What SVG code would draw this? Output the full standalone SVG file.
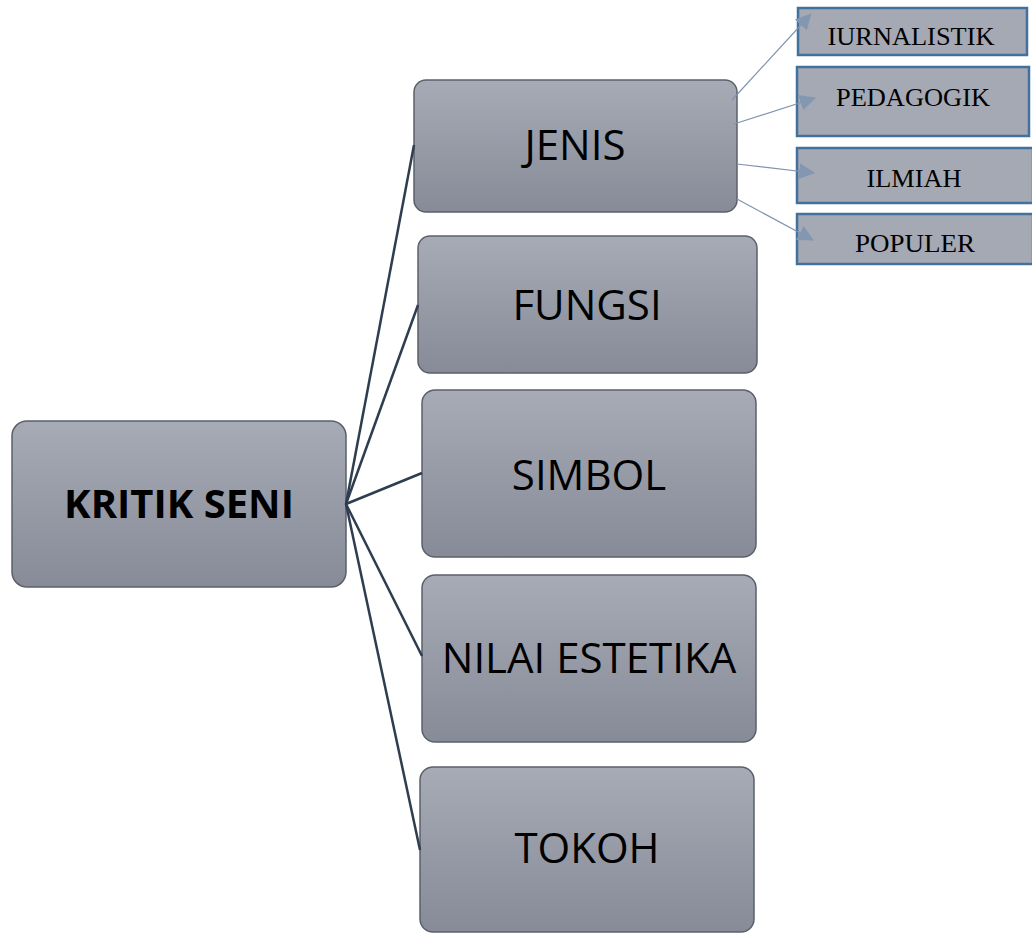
<svg xmlns="http://www.w3.org/2000/svg" width="1032" height="933" viewBox="0 0 1032 933">
  <defs>
    <linearGradient id="boxFill" x1="0" y1="0" x2="0" y2="1">
      <stop offset="0" stop-color="#a7abb6"/>
      <stop offset="1" stop-color="#868b97"/>
    </linearGradient>
    <marker id="tip" viewBox="0 0 16 16" refX="15" refY="8" markerWidth="16" markerHeight="16" markerUnits="userSpaceOnUse" orient="auto">
      <path d="M0,0 L16,8 L0,16 Z" fill="#8497b0"/>
    </marker>
    <style>
      .box { fill: url(#boxFill); stroke: #5b6069; stroke-width: 1.5; }
      .leaf { fill: #a5a9b4; stroke: #41719c; stroke-width: 2.5; }
      .main { font-family: "Open Sans", "Liberation Sans", sans-serif; font-size: 42px; fill: #000; text-anchor: middle; }
      .root { font-family: "Open Sans", "Liberation Sans", sans-serif; font-size: 40px; font-weight: bold; fill: #000; text-anchor: middle; }
      .leafText { font-family: "Liberation Serif", serif; font-size: 26px; fill: #000; text-anchor: middle; }
      .trunk { stroke: #2e3d4f; stroke-width: 2.5; fill: none; }
      .twig { stroke: #7f93b0; stroke-width: 1.2; fill: none; marker-end: url(#tip); }
    </style>
  </defs>

  <g id="kritik-seni">
    <rect class="box" x="12" y="421" width="334" height="166" rx="15"/>
    <text class="root" x="179" y="518">KRITIK SENI</text>
  </g>

  <g id="jenis">
    <rect class="box" x="414" y="80" width="323" height="132" rx="12"/>
    <text class="main" x="575" y="160">JENIS</text>
  </g>

  <g id="fungsi">
    <rect class="box" x="418" y="236" width="339" height="137" rx="12"/>
    <text class="main" x="587" y="320">FUNGSI</text>
  </g>

  <g id="simbol">
    <rect class="box" x="422" y="390" width="334" height="167" rx="13"/>
    <text class="main" x="589" y="490">SIMBOL</text>
  </g>

  <g id="nilai-estetika">
    <rect class="box" x="422" y="575" width="334" height="167" rx="13"/>
    <text class="main" x="589" y="673">NILAI ESTETIKA</text>
  </g>

  <g id="tokoh">
    <rect class="box" x="420" y="767" width="334" height="165" rx="13"/>
    <text class="main" x="587" y="863">TOKOH</text>
  </g>

  <g id="jurnalistik">
    <rect class="leaf" x="798" y="8" width="229" height="47"/>
    <text class="leafText" x="911" y="45" textLength="167" lengthAdjust="spacingAndGlyphs">IURNALISTIK</text>
  </g>

  <g id="pedagogik">
    <rect class="leaf" x="797" y="67" width="232" height="69"/>
    <text class="leafText" x="913" y="106" textLength="154" lengthAdjust="spacingAndGlyphs">PEDAGOGIK</text>
  </g>

  <g id="ilmiah">
    <rect class="leaf" x="797" y="148" width="236" height="55"/>
    <text class="leafText" x="914" y="187" textLength="95" lengthAdjust="spacingAndGlyphs">ILMIAH</text>
  </g>

  <g id="populer">
    <rect class="leaf" x="797" y="214" width="236" height="50"/>
    <text class="leafText" x="915" y="252" textLength="120" lengthAdjust="spacingAndGlyphs">POPULER</text>
  </g>

  <!-- connectors drawn last so the arrowheads sit on top of the leaf boxes -->
  <g id="connectors">
    <line class="trunk" x1="346" y1="504" x2="414" y2="145"/>
    <line class="trunk" x1="346" y1="504" x2="418" y2="305"/>
    <line class="trunk" x1="346" y1="504" x2="422" y2="473"/>
    <line class="trunk" x1="346" y1="504" x2="422" y2="656"/>
    <line class="trunk" x1="346" y1="504" x2="420" y2="850"/>
    <line class="twig" x1="732" y1="100" x2="811" y2="14"/>
    <line class="twig" x1="734" y1="124" x2="815" y2="98"/>
    <line class="twig" x1="737" y1="164" x2="814" y2="173"/>
    <line class="twig" x1="737" y1="199" x2="813" y2="240"/>
  </g>
</svg>
